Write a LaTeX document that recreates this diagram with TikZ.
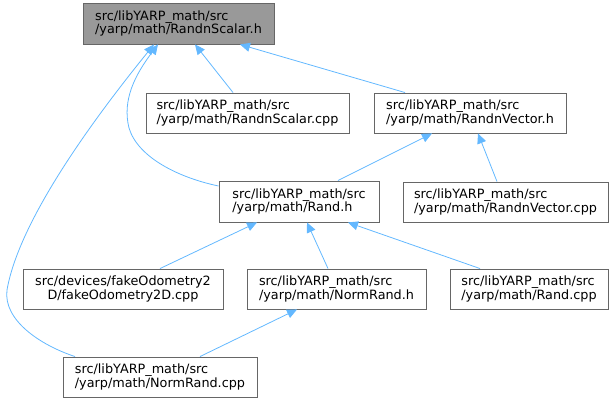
\documentclass[tikz,border=0pt]{standalone}
\usepackage{fontspec}
\setmainfont{DejaVu Sans}
\usetikzlibrary{arrows.meta}
\definecolor{edgeblue}{HTML}{63B8FF}
\definecolor{boxborder}{HTML}{666666}
\definecolor{rootfill}{HTML}{999999}
\begin{document}
\begin{tikzpicture}[x=1pt,y=-1pt,
  box/.style={draw=boxborder, line width=0.9pt, fill=white, inner sep=0pt,
    minimum height=40pt, align=left, font=\fontsize{12.8}{13.6}\selectfont},
  rootbox/.style={box, fill=rootfill},
  edge/.style={draw=edgeblue, line width=0.8pt, -{Triangle[length=10pt,width=9pt]}}]
\useasboundingbox (0,0) rectangle (615,403);
\node[rootbox, minimum width=191pt, minimum height=41pt] (root) at (178.5,23.5) {src/libYARP\_math/src\\/yarp/math/RandnScalar.h};
\node[box, minimum width=203pt] (rsc) at (247.5,113) {src/libYARP\_math/src\\/yarp/math/RandnScalar.cpp};
\node[box, minimum width=192pt] (rvh) at (470,113) {src/libYARP\_math/src\\/yarp/math/RandnVector.h};
\node[box, minimum width=160pt, minimum height=41pt] (randh) at (299,201.5) {src/libYARP\_math/src\\/yarp/math/Rand.h};
\node[box, minimum width=205pt] (rvc) at (505.5,202) {src/libYARP\_math/src\\/yarp/math/RandnVector.cpp};
\node[box, minimum width=200pt, align=center] (fake) at (123,289) {src/devices/fakeOdometry2\\D/fakeOdometry2D.cpp};
\node[box, minimum width=179pt] (nrh) at (336.5,289) {src/libYARP\_math/src\\/yarp/math/NormRand.h};
\node[box, minimum width=158pt] (rcpp) at (529,289) {src/libYARP\_math/src\\/yarp/math/Rand.cpp};
\node[box, minimum width=194pt] (nrc) at (160,377) {src/libYARP\_math/src\\/yarp/math/NormRand.cpp};
% edges (child -> parent)
\draw[edge] ([xshift=-14.5pt]rsc.north) -- ([xshift=16.5pt]root.south);
\draw[edge] ([xshift=-65pt]rvh.north) -- ([xshift=61.5pt]root.south);
\draw[edge] ([yshift=15.5pt]randh.west) .. controls (180,178) and (138,158) .. (129,128) .. controls (122,100) and (135,75) .. ([xshift=-20.5pt]root.south);
\draw[edge] ([xshift=-85pt]nrc.north) .. controls (40,345) and (3,320) .. (7,290) .. controls (20,215) and (105,105) .. ([xshift=-24.5pt]root.south);
\draw[edge] ([xshift=39pt]randh.north) -- ([xshift=-38pt]rvh.south);
\draw[edge] ([xshift=-8.5pt]rvc.north) -- ([xshift=8pt]rvh.south);
\draw[edge] ([xshift=37pt]fake.north) -- ([xshift=-42pt]randh.south);
\draw[edge] ([xshift=-8.5pt]nrh.north) -- ([xshift=8pt]randh.south);
\draw[edge] ([xshift=-49pt]rcpp.north) -- ([xshift=49pt]randh.south);
\draw[edge] ([xshift=40pt]nrc.north) -- ([xshift=-39.5pt]nrh.south);
\end{tikzpicture}
\end{document}
